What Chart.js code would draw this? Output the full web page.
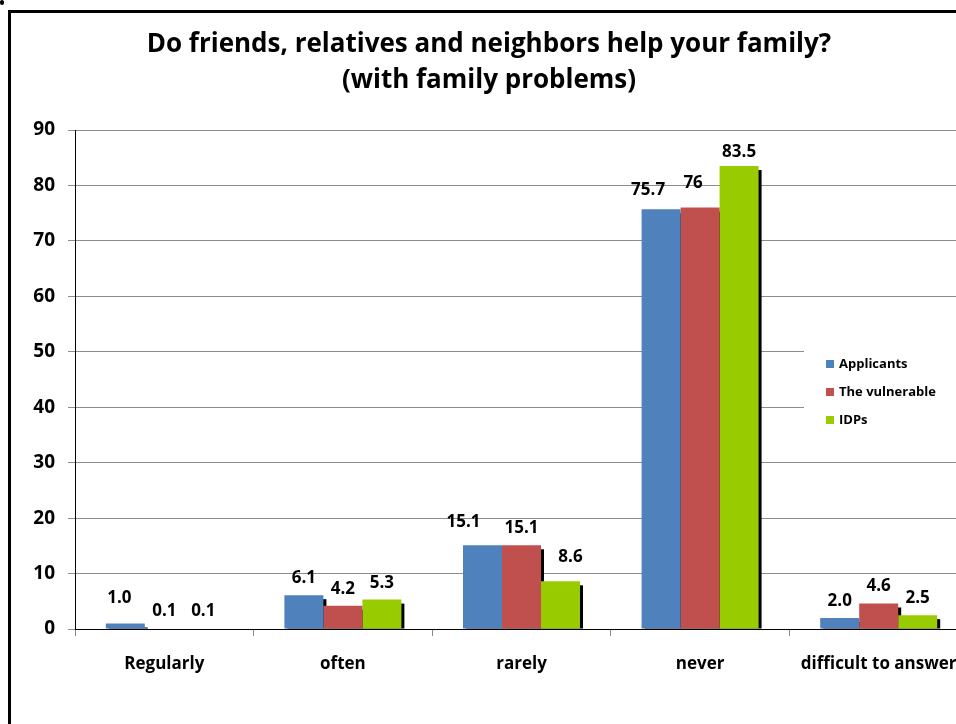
<!DOCTYPE html>
<html><head><meta charset="utf-8">
<script src="https://cdn.jsdelivr.net/npm/chart.js@4/dist/chart.umd.min.js"></script>
<style>
html,body{margin:0;padding:0;background:#fff;overflow:hidden;width:956px;height:724px;}
#wrap{position:absolute;left:0;top:0;width:990px;height:724px;}
#frame{position:absolute;left:8px;top:10px;width:1000px;height:800px;border:3px solid #000;box-sizing:border-box;}
#dot{position:absolute;left:0;top:0;width:4px;height:5px;background:#000;border-radius:2px;}
#title{position:absolute;left:0;top:24px;width:978px;text-align:center;font:bold 26px "Open Sans",sans-serif;line-height:36px;color:#000;}
#legend{position:absolute;left:804px;top:344px;width:160px;height:90px;background:#fff;font:bold 13px "Open Sans",sans-serif;color:#000;}
.li{position:absolute;left:22px;height:16px;line-height:16px;white-space:nowrap;}
.sw{display:inline-block;width:8px;height:8px;margin-right:5px;vertical-align:0px;}
canvas{position:absolute;left:0;top:0;}
</style></head>
<body>
<div id="wrap"><canvas id="c" width="990" height="724"></canvas></div>
<div id="frame"></div>
<div id="dot"></div>
<div id="title">Do friends, relatives and neighbors help your family?<br>(with family problems)</div>
<div id="legend"></div>
<script>
const categories = ["Regularly", "often", "rarely", "never", "difficult to answer"];
const seriesNames = ["Applicants", "The vulnerable", "IDPs"];
const applicants = [1.0, 6.1, 15.1, 75.7, 2.0];
const vulnerable = [0.1, 4.2, 15.1, 76, 4.6];
const idps = [0.1, 5.3, 8.6, 83.5, 2.5];
const applicantsLabels = ["1.0", "6.1", "15.1", "75.7", "2.0"];
const vulnerableLabels = ["0.1", "4.2", "15.1", "76", "4.6"];
const idpsLabels = ["0.1", "5.3", "8.6", "83.5", "2.5"];
const yTicks = [0, 10, 20, 30, 40, 50, 60, 70, 80, 90];
const colors = ["#4F81BD", "#C0504D", "#99CC00"];

const labelSets = [applicantsLabels, vulnerableLabels, idpsLabels];
// manual label nudges (as in the original, some labels were dragged): "series,index": [dx, dy]
const labelNudges = { "0,0": [-6, -8], "0,2": [-19, -6], "2,2": [10, -7], "0,3": [-13, -2], "1,3": [-7, -8], "2,3": [0, 3] };

const legendEl = document.getElementById('legend');
seriesNames.forEach((n, i) => {
  const d = document.createElement('div');
  d.className = 'li';
  d.style.top = (11 + i * 28) + 'px';
  d.innerHTML = '<span class="sw" style="background:' + colors[i] + '"></span>' + n;
  legendEl.appendChild(d);
});

const shadowPlugin = {
  id: 'shadow',
  beforeDatasetsDraw(chart) {
    const ctx = chart.ctx;
    ctx.save();
    ctx.fillStyle = '#000';
    chart.data.datasets.forEach((ds, di) => {
      chart.getDatasetMeta(di).data.forEach(bar => {
        const w = bar.width;
        if (bar.base - bar.y < 1) return;
        ctx.fillRect(bar.x - w / 2 + 3, bar.y + 4, w, bar.base - bar.y - 4);
      });
    });
    ctx.restore();
  }
};
const labelPlugin = {
  id: 'vlabels',
  afterDatasetsDraw(chart) {
    const ctx = chart.ctx;
    ctx.save();
    ctx.font = 'bold 17px "Open Sans", sans-serif';
    ctx.fillStyle = '#000';
    ctx.textAlign = 'center';
    ctx.textBaseline = 'alphabetic';
    chart.data.datasets.forEach((ds, di) => {
      chart.getDatasetMeta(di).data.forEach((bar, i) => {
        const n = labelNudges[di + ',' + i] || [0, 0];
        ctx.fillText(labelSets[di][i], bar.x + n[0], bar.y - 12 + n[1]);
      });
    });
    ctx.restore();
  }
};

new Chart(document.getElementById('c'), {
  type: 'bar',
  data: {
    labels: categories,
    datasets: [
      { label: seriesNames[0], data: applicants, backgroundColor: colors[0] },
      { label: seriesNames[1], data: vulnerable, backgroundColor: colors[1] },
      { label: seriesNames[2], data: idps, backgroundColor: colors[2] }
    ]
  },
  options: {
    responsive: false,
    animation: false,
    layout: { padding: { left: 0, right: 22, top: 130, bottom: 0 } },
    datasets: { bar: { barPercentage: 1.0, categoryPercentage: 0.655 } },
    plugins: { legend: { display: false }, title: { display: false }, tooltip: { enabled: false } },
    scales: {
      x: {
        afterFit(s) { s.height = 95; },
        grid: { offset: true, drawOnChartArea: false, color: '#888', tickLength: 7 },
        border: { color: '#000', width: 1 },
        ticks: { color: '#000', font: { family: 'Open Sans', weight: 'bold', size: 17 }, padding: 18, maxRotation: 0, autoSkip: false }
      },
      y: {
        min: 0, max: 90,
        afterFit(s) { s.width = 75; },
        afterBuildTicks(s) { s.ticks = yTicks.map(v => ({ value: v })); },
        grid: { color: '#8c8c8c', tickLength: 7 },
        border: { color: '#000', width: 1 },
        ticks: { color: '#000', font: { family: 'Open Sans', weight: 'bold', size: 19 }, padding: 13 }
      }
    }
  },
  plugins: [shadowPlugin, labelPlugin]
});
</script>
</body></html>
